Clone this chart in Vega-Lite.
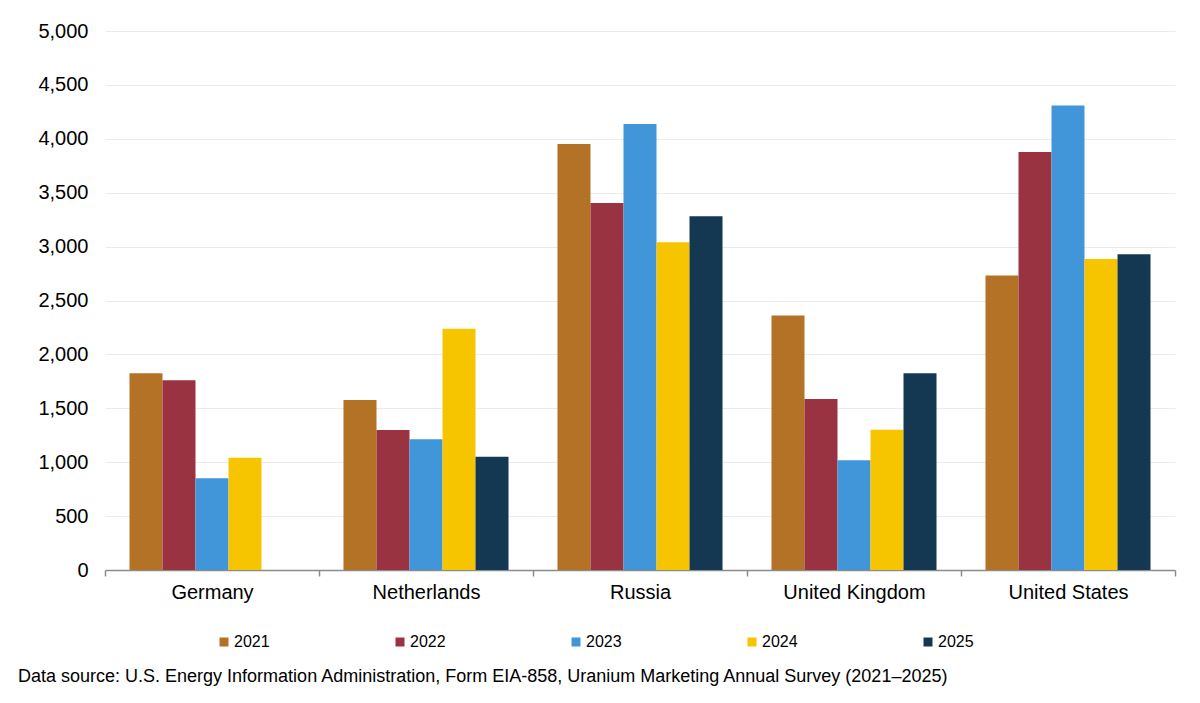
{
  "$schema": "https://vega.github.io/schema/vega-lite/v6.json",
  "description": "Uranium purchases by origin country, 2021-2025",
  "width": 1070,
  "height": 539,
  "autosize": "none",
  "padding": {"left": 105, "top": 31, "right": 25, "bottom": 133},
  "background": "#ffffff",
  "config": {
    "font": "Liberation Sans",
    "view": {"stroke": null},
    "axis": {"labelColor": "#000000", "labelFont": "Liberation Sans", "labelFontSize": 20}
  },
  "title": {
    "text": "Data source: U.S. Energy Information Administration, Form EIA-858, Uranium Marketing Annual Survey (2021\u20132025)",
    "orient": "bottom",
    "anchor": "start",
    "frame": "group",
    "dx": -87,
    "offset": 18,
    "font": "Liberation Sans",
    "fontSize": 18,
    "fontWeight": "normal",
    "color": "#000000"
  },
  "data": {
    "values": [
      {"country": "Germany", "year": "2021", "value": 1825},
      {"country": "Germany", "year": "2022", "value": 1760},
      {"country": "Germany", "year": "2023", "value": 850},
      {"country": "Germany", "year": "2024", "value": 1042},
      {"country": "Netherlands", "year": "2021", "value": 1577},
      {"country": "Netherlands", "year": "2022", "value": 1299},
      {"country": "Netherlands", "year": "2023", "value": 1212},
      {"country": "Netherlands", "year": "2024", "value": 2239},
      {"country": "Netherlands", "year": "2025", "value": 1051},
      {"country": "Russia", "year": "2021", "value": 3952},
      {"country": "Russia", "year": "2022", "value": 3404},
      {"country": "Russia", "year": "2023", "value": 4137},
      {"country": "Russia", "year": "2024", "value": 3040},
      {"country": "Russia", "year": "2025", "value": 3281},
      {"country": "United Kingdom", "year": "2021", "value": 2362},
      {"country": "United Kingdom", "year": "2022", "value": 1586},
      {"country": "United Kingdom", "year": "2023", "value": 1017},
      {"country": "United Kingdom", "year": "2024", "value": 1302},
      {"country": "United Kingdom", "year": "2025", "value": 1824},
      {"country": "United States", "year": "2021", "value": 2733},
      {"country": "United States", "year": "2022", "value": 3877},
      {"country": "United States", "year": "2023", "value": 4310},
      {"country": "United States", "year": "2024", "value": 2885},
      {"country": "United States", "year": "2025", "value": 2928}
    ]
  },
  "mark": {"type": "bar", "tooltip": true},
  "encoding": {
    "x": {
      "field": "country",
      "type": "nominal",
      "scale": {"paddingInner": 0, "paddingOuter": 0},
      "axis": {
        "title": null,
        "labelAngle": 0,
        "labelPadding": 6,
        "domainColor": "#8c8c8c",
        "domainWidth": 1.5,
        "tickColor": "#8c8c8c",
        "tickWidth": 1.5,
        "tickSize": 6,
        "tickBand": "extent",
        "grid": false
      }
    },
    "xOffset": {
      "field": "year",
      "type": "nominal",
      "scale": {"domain": ["2021", "2022", "2023", "2024", "2025"], "paddingInner": 0, "paddingOuter": 0.742}
    },
    "y": {
      "field": "value",
      "type": "quantitative",
      "scale": {"domain": [0, 5000], "nice": false},
      "axis": {
        "title": null,
        "format": ",.0f",
        "values": [0, 500, 1000, 1500, 2000, 2500, 3000, 3500, 4000, 4500, 5000],
        "domain": false,
        "ticks": false,
        "labelPadding": 17,
        "gridColor": "#ebebeb",
        "gridWidth": 1
      }
    },
    "color": {
      "field": "year",
      "type": "nominal",
      "scale": {
        "domain": ["2021", "2022", "2023", "2024", "2025"],
        "range": ["#b37225", "#9a3341", "#4196d9", "#f6c500", "#153852"]
      },
      "legend": {
        "title": null,
        "orient": "none",
        "legendX": 111,
        "legendY": 603,
        "direction": "horizontal",
        "columns": 5,
        "columnPadding": 122,
        "symbolType": "square",
        "symbolSize": 81,
        "symbolStrokeWidth": 0,
        "labelFontSize": 16,
        "labelColor": "#000000",
        "labelOffset": 2
      }
    },
    "tooltip": [
      {"field": "country"},
      {"field": "year"},
      {"field": "value", "format": ","}
    ]
  }
}
